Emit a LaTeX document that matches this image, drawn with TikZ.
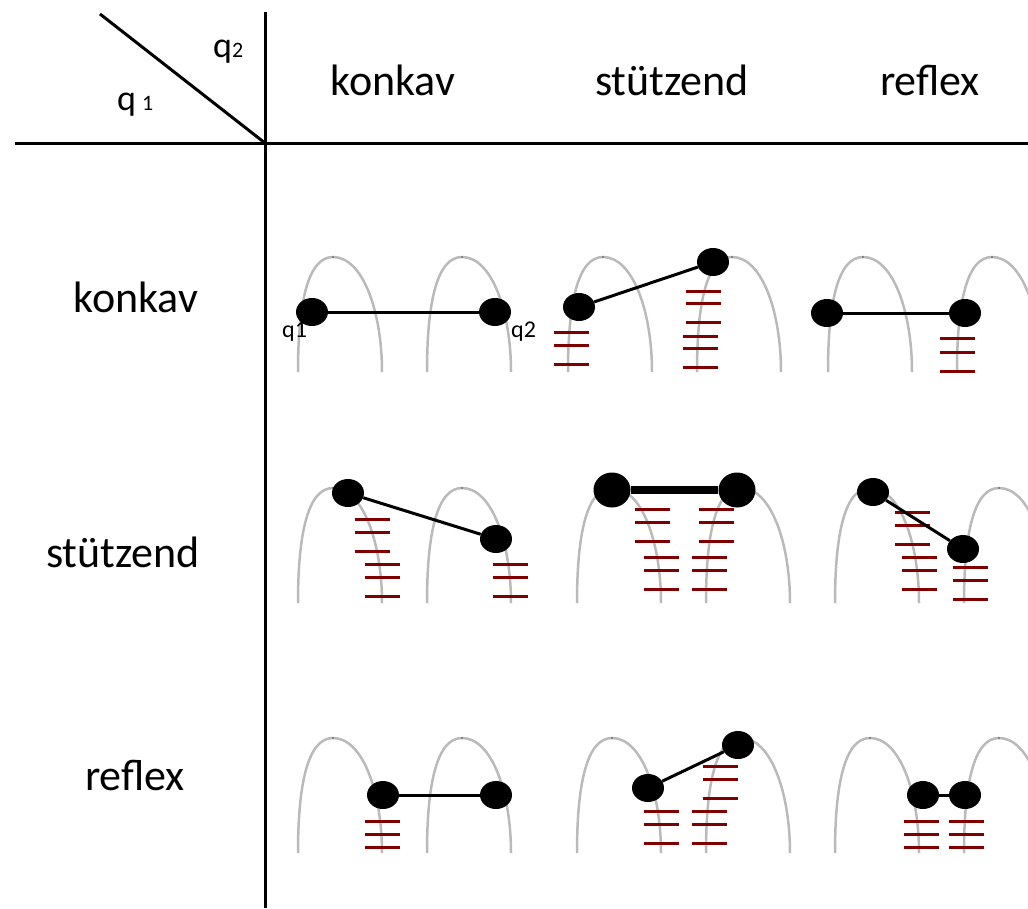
\documentclass[tikz,border=0pt]{standalone}
\usepackage{fontspec}
\setmainfont{Carlito}
\usetikzlibrary{shapes.geometric}

\begin{document}
\begin{tikzpicture}[x=1pt, y=-1pt]
        \tikzstyle{every node}=[inner sep=0pt]
        \tikzstyle{headtext}=[font=\fontsize{44}{50}\selectfont, anchor=base]
        \tikzstyle{qtext}=[font=\fontsize{24}{28}\selectfont, anchor=base west]
        \tikzstyle{arch}=[draw=black!27, line width=2.5pt]
        \tikzstyle{hatch}=[draw=red!50!black, line width=3pt]
        \tikzstyle{dot}=[ellipse, fill=black, minimum width=32pt, minimum height=28pt]
        \tikzstyle{bigdot}=[dot, minimum width=37pt, minimum height=35pt]
        \tikzstyle{bond}=[line width=3pt]
        \useasboundingbox (0,0) rectangle (1028,908);

        % table frame
        \coordinate (hl) at (15,143);
        \coordinate (hr) at (1028,143);
        \coordinate (vt) at (265,12);
        \coordinate (vb) at (265,908);
        \coordinate (dg) at (100,14);
        \draw[line width=3pt] (hl) -- (hr);
        \draw[line width=3pt] (vt) -- (vb);
        \draw[line width=3pt] (dg) -- (vt |- hl);

        \node[font=\fontsize{36}{40}\selectfont, anchor=base west] (h2) at (213,57) {q{\fontsize{22}{24}\selectfont 2}};
        \node[font=\fontsize{36}{40}\selectfont, anchor=base west] (h1) at (117,110) {q\,{\fontsize{22}{24}\selectfont 1}};

        \node[headtext] (c1) at (393,95) {konkav};
        \node[headtext] (c2) at (672,95) {stützend};
        \node[headtext] (c3) at (930,95) {reflex};
        \node[headtext] (r1) at (136,312) {konkav};
        \node[headtext] (r2) at (123,567) {stützend};
        \node[headtext] (r3) at (135,790) {reflex};

        % two arches in every cell
        \foreach \x/\y in {298/372, 568/372, 828/372, 298/603, 577/603, 835/603, 298/853, 577/853, 835/853}
            \foreach \d in {0,129} {
                \draw[arch] (\x+\d,\y) .. controls +(0,-70) and +(-25,0) .. (\x+\d+35,\y-115)
                    .. controls +(30,0) and +(0,-60) .. (\x+\d+84,\y);
                \fill[black!55] (\x+\d+35,\y-115) circle (1.2pt);
            }

        % red support strokes, three per group
        \foreach \hx/\ha/\hb/\hc in {571/332/345/364, 703/291/303/322, 700/336/348/367, 957/338/352/371,
                372/519/532/551, 382/564/577/596, 510/564/577/596,
                652/509/522/541, 661/557/570/589, 716/509/522/541, 709/557/570/589,
                912/512/525/544, 919/557/570/589, 970/567/580/599,
                382/821/834/847, 661/811/824/843, 720/766/779/798, 709/811/824/843,
                921/821/834/847, 966/821/834/847}
            \foreach \hy in {\ha,\hb,\hc}
                \draw[hatch] (\hx-17.5,\hy) -- (\hx+17.5,\hy);

        % contact points
        \node[dot] (a11) at (312,312) {};
        \node[dot] (b11) at (495,312) {};
        \node[dot] (a12) at (579,307) {};
        \node[dot] (b12) at (713,262) {};
        \node[dot] (a13) at (827,313) {};
        \node[dot] (b13) at (965,313) {};
        \node[dot] (a21) at (348,493) {};
        \node[dot] (b21) at (496,539) {};
        \node[bigdot] (a22) at (612,490) {};
        \node[bigdot] (b22) at (737,490) {};
        \node[dot] (a23) at (873,492) {};
        \node[dot] (b23) at (963,549) {};
        \node[dot] (a31) at (383,795) {};
        \node[dot] (b31) at (496,795) {};
        \node[dot] (a32) at (648,788) {};
        \node[dot] (b32) at (738,745) {};
        \node[dot] (a33) at (923,795) {};
        \node[dot] (b33) at (965,795) {};

        \foreach \c in {11,12,13,21,23,31,32,33}
            \draw[bond] (a\c) -- (b\c);
        \draw[bond, line width=8pt] (a22) -- (b22);

        \node[qtext] (q1) at (282,337) {q1};
        \node[qtext] (q2) at (511,337) {q2};
    \end{tikzpicture}
\end{document}
